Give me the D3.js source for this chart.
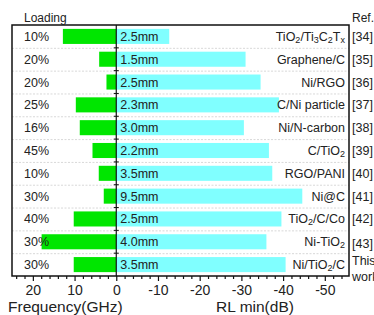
<!DOCTYPE html>
<meta charset="utf-8">
<title>Loading / RL min comparison</title>
<style>
body {
  margin: 0;
  background: #fff;
}
text {
  font-family: "Liberation Sans", Arial, sans-serif;
  fill: #222;
}
</style>
<body>
<script src="https://d3js.org/d3.v7.min.js"></script>
<script>
// one row per material, top to bottom
var loading = ["10%", "20%", "20%", "25%", "16%", "45%", "10%", "30%", "40%", "30%", "30%"];
var thickness = ["2.5mm", "1.5mm", "2.5mm", "2.3mm", "3.0mm", "2.2mm", "3.5mm", "9.5mm", "2.5mm", "4.0mm", "3.5mm"];
var materials = ["TiO_2/Ti_3C_2T_x", "Graphene/C", "Ni/RGO", "C/Ni particle", "Ni/N-carbon", "C/TiO_2",
                 "RGO/PANI", "Ni@C", "TiO_2/C/Co", "Ni-TiO_2", "Ni/TiO_2/C"];
var refs = ["[34]", "[35]", "[36]", "[37]", "[38]", "[39]", "[40]", "[41]", "[42]", "[43]", "This work"];
var frequency = [12.8, 4.1, 2.35, 9.7, 8.75, 5.7, 4.2, 3.0, 10.2, 17.9, 10.2];
var rlMin = [-12.7, -31.0, -34.6, -39.0, -30.6, -36.6, -37.4, -44.6, -39.6, -36.0, -40.6];
var majorTicks = [20, 10, 0, -10, -20, -30, -40, -50];

var w = 374,
    h = 315,
    x0 = 12,
    x1 = 349,
    y0 = 25,
    y1 = 276;

var svg = d3.select("body").append("svg")
    .attr("width", w)
    .attr("height", h);

var x = d3.scaleLinear().domain([25, -55.8]).range([x0, x1]);
var y = d3.scaleBand().domain(d3.range(materials.length)).range([y0, y1]);
var bh = y.bandwidth() * 0.66;

// row separators
svg.selectAll("line.sep")
    .data(d3.range(1, materials.length))
  .enter().append("line")
    .attr("x1", x0).attr("x2", x1)
    .attr("y1", function(i) { return y(i) + 0.5; })
    .attr("y2", function(i) { return y(i) + 0.5; })
    .attr("stroke", "#d8d8d8")
    .attr("stroke-dasharray", "2,1.5");

// frequency bars (left)
svg.selectAll("rect.freq")
    .data(frequency)
  .enter().append("rect")
    .attr("x", function(d) { return x(d); })
    .attr("y", function(d, i) { return y(i) + (y.bandwidth() - bh) / 2; })
    .attr("width", function(d) { return x(0) - x(d); })
    .attr("height", bh)
    .attr("fill", "#00e600");

// RL min bars (right)
svg.selectAll("rect.rl")
    .data(rlMin)
  .enter().append("rect")
    .attr("x", x(0))
    .attr("y", function(d, i) { return y(i) + (y.bandwidth() - bh) / 2; })
    .attr("width", function(d) { return x(d) - x(0); })
    .attr("height", bh)
    .attr("fill", "#80ffff");

// zero line with small cross ticks at row boundaries
svg.append("line")
    .attr("x1", x(0)).attr("x2", x(0))
    .attr("y1", y0).attr("y2", y1)
    .attr("stroke", "#111").attr("stroke-width", 1.2);
svg.selectAll("line.cross")
    .data(d3.range(1, materials.length))
  .enter().append("line")
    .attr("x1", x(0) - 2.5).attr("x2", x(0) + 2.5)
    .attr("y1", function(i) { return y(i); })
    .attr("y2", function(i) { return y(i); })
    .attr("stroke", "#111");

// frame
svg.append("rect")
    .attr("x", x0).attr("y", y0)
    .attr("width", x1 - x0).attr("height", y1 - y0)
    .attr("fill", "none")
    .attr("stroke", "#111")
    .attr("stroke-width", 1.5);

// bottom axis: minor every 2, major every 10
var minor = d3.range(-54, 25, 2).filter(function(v) { return v % 10 !== 0; });
svg.append("g")
    .attr("transform", "translate(0," + y1 + ")")
    .call(d3.axisBottom(x).tickValues(minor).tickSize(3).tickFormat(""))
    .call(function(g) { g.select(".domain").remove(); g.selectAll("line").attr("stroke", "#111").attr("stroke-width", 1.2); });
svg.append("g")
    .attr("transform", "translate(0," + y1 + ")")
    .call(d3.axisBottom(x).tickValues(majorTicks).tickSize(5).tickPadding(4).tickFormat(d3.format("d")))
    .call(function(g) {
      g.select(".domain").remove();
      g.selectAll("line").attr("stroke", "#111").attr("stroke-width", 1.2);
      g.selectAll("text").attr("font-size", 14).attr("fill", "#222")
        .attr("font-family", "Liberation Sans, Arial, sans-serif")
        .text(function(d) { return d < 0 ? "-" + (-d) : d; });
    });

svg.append("text").attr("x", 8).attr("y", 312).attr("font-size", 15.5).text("Frequency(GHz)");
svg.append("text").attr("x", 255).attr("y", 312).attr("font-size", 15.5)
    .attr("text-anchor", "middle").text("RL min(dB)");

svg.append("text").attr("x", 24).attr("y", 21.5).attr("font-size", 12).text("Loading");
svg.append("text").attr("x", 352).attr("y", 22).attr("font-size", 12).text("Ref.");

function mid(i) { return y(i) + y.bandwidth() / 2 + 4.5; }

svg.selectAll("text.load")
    .data(loading)
  .enter().append("text")
    .attr("x", 24).attr("y", function(d, i) { return mid(i); })
    .attr("font-size", 12.5).text(function(d) { return d; });

svg.selectAll("text.thick")
    .data(thickness)
  .enter().append("text")
    .attr("x", x(0) + 4).attr("y", function(d, i) { return mid(i); })
    .attr("font-size", 12.5).text(function(d) { return d; });

// material names, "_" marks a one-character subscript
svg.selectAll("text.mat")
    .data(materials)
  .enter().append("text")
    .attr("x", x1 - 4).attr("y", function(d, i) { return mid(i); })
    .attr("text-anchor", "end")
    .attr("font-size", 12.5)
    .each(function(d) {
      var t = d3.select(this);
      var parts = d.split("_");
      t.append("tspan").text(parts[0]);
      parts.slice(1).forEach(function(p) {
        t.append("tspan").attr("font-size", 9).attr("dy", 2).text(p[0]);
        if (p.length > 1) t.append("tspan").attr("dy", -2).text(p.slice(1));
      });
    });

svg.selectAll("text.ref")
    .data(refs)
  .enter().append("text")
    .attr("x", 352).attr("y", function(d, i) { return mid(i) + (i === 9 ? 2 : 0); })
    .attr("font-size", 12.5)
    .each(function(d, i) {
      var t = d3.select(this);
      var words = d.split(" ");
      if (words.length === 1) { t.text(d); return; }
      t.attr("y", mid(i) - 4);
      t.append("tspan").attr("x", 352).text(words[0]);
      t.append("tspan").attr("x", 352).attr("dy", 16).text(words[1]);
    });
</script>
